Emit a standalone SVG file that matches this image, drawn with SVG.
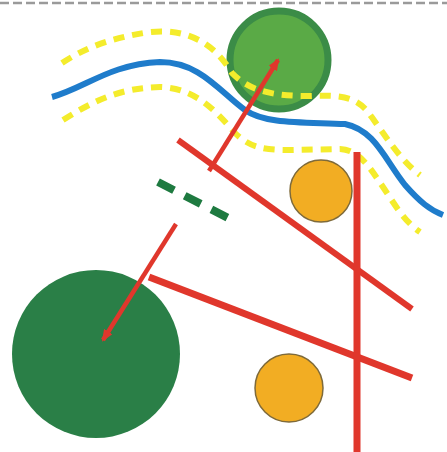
<svg xmlns="http://www.w3.org/2000/svg" width="447" height="452" viewBox="0 0 447 452">
<defs>
<style>
.red{stroke:#e0372c;stroke-linecap:butt;fill:none}
.yel{stroke:#f4ec2c;stroke-width:6;fill:none;stroke-dasharray:11 8}
.orange{fill:#f2ad23;stroke:#7e6a3a;stroke-width:1.5}
</style>
<marker id="ah" viewBox="0 0 12 10" refX="10" refY="5" markerWidth="12" markerHeight="10" markerUnits="userSpaceOnUse" orient="auto-start-reverse">
<path d="M0,0 L12,5 L0,10 Z" fill="#e0372c"/>
</marker>
</defs>
<rect width="447" height="452" fill="#ffffff"/>
<line x1="0" y1="3" x2="447" y2="3" stroke="#9a9a9a" stroke-width="2.5" stroke-dasharray="9 4"/>

<g id="big-green"><circle cx="96" cy="354" r="84" fill="#2a7f47"/></g>
<g id="top-green"><circle cx="279" cy="60" r="49" fill="#5aaa46" stroke="#3b8c47" stroke-width="7"/></g>

<g id="yellow-upper"><path class="yel" d="M62,63 C85,48 110,38 150,32 C190,28 215,45 232,73 C250,92 275,96 310,96 C340,95 355,96 368,112 C385,135 400,160 420,175"/></g>
<g id="yellow-lower"><path class="yel" d="M63,120 C95,100 120,88 160,87 C195,88 215,110 235,133 C250,148 265,150 290,150 L340,149 C360,150 370,168 385,190 C395,205 405,222 420,232"/></g>
<g id="blue"><path d="M52,97 C85,88 110,64 160,62 C200,62 220,92 245,110 C265,124 300,122 345,124 C375,130 385,160 405,185 C420,202 430,210 443,215" fill="none" stroke="#1f7ccb" stroke-width="6"/></g>

<g id="orange-1"><circle class="orange" cx="321" cy="191" r="31"/></g>
<g id="orange-2"><circle class="orange" cx="289" cy="388" r="34"/></g>

<g id="green-dash"><line x1="158" y1="182" x2="232" y2="220" stroke="#1e7a40" stroke-width="8" stroke-dasharray="18 12"/></g>

<g id="red-line-a"><line class="red" x1="178" y1="140" x2="412" y2="309" stroke-width="6"/></g>
<g id="red-line-b"><line class="red" x1="149" y1="277" x2="412" y2="378" stroke-width="7"/></g>
<g id="red-vertical"><line class="red" x1="357" y1="152" x2="357" y2="452" stroke-width="7"/></g>

<g id="connectors">
<line class="red" x1="209" y1="171" x2="278" y2="60" stroke-width="4.5" marker-end="url(#ah)"/>
<line class="red" x1="176" y1="224" x2="103" y2="340" stroke-width="4.5" marker-end="url(#ah)"/>
</g>
</svg>
